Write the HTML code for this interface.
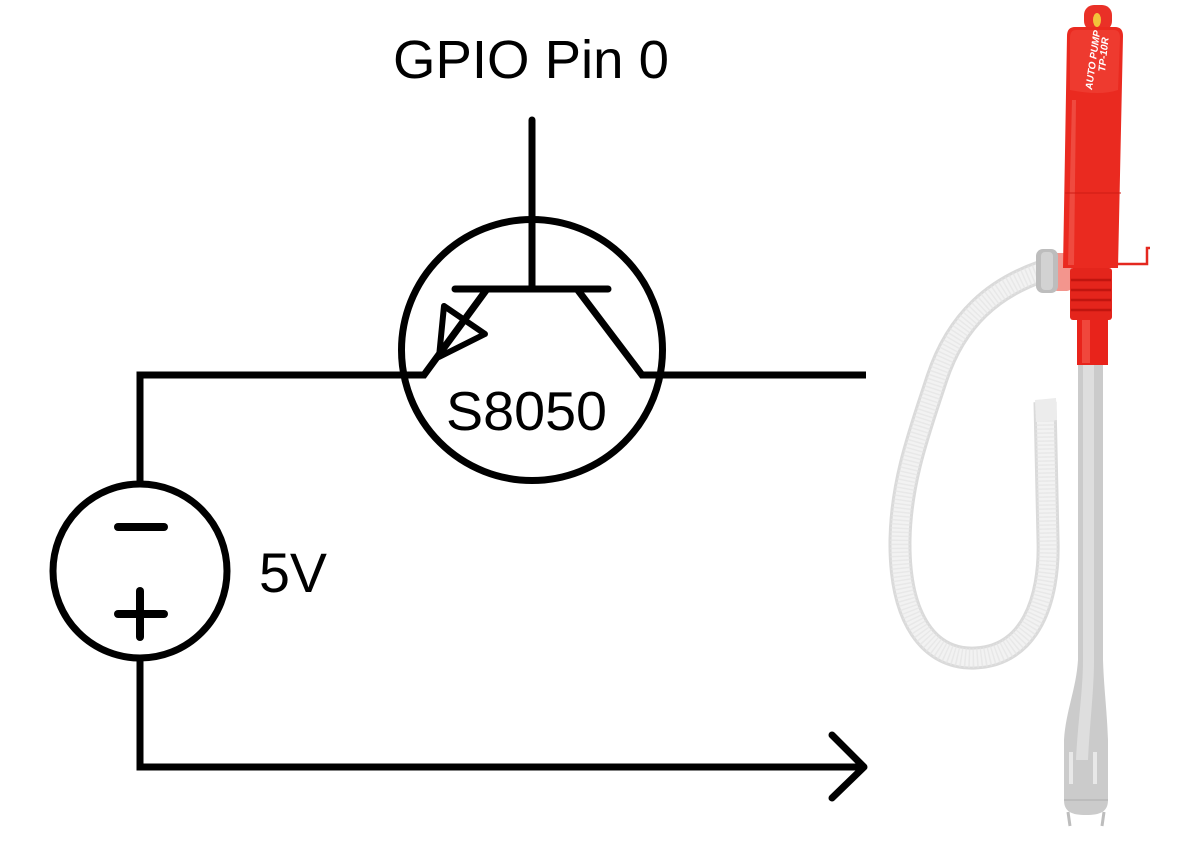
<!DOCTYPE html>
<html><head><meta charset="utf-8"><style>
html,body{margin:0;padding:0;background:#fff;}
svg{display:block;}
</style></head><body>
<svg width="1200" height="860" viewBox="0 0 1200 860" xmlns="http://www.w3.org/2000/svg">
<rect width="1200" height="860" fill="#fff"/>
<g fill="none" stroke="#000" stroke-width="7" stroke-linejoin="miter">
  <circle cx="532" cy="350" r="130.5"/>
  <line x1="532" y1="120" x2="532" y2="289" stroke-linecap="round"/>
  <line x1="455" y1="289" x2="608" y2="289" stroke-linecap="round"/>
  <polyline points="487,289 424,375 140,375 140,482"/>
  <polygon points="444,306 485,334 439,357" stroke-width="6" stroke-linejoin="round"/>
  <polyline points="577,289 642,375 866,375"/>
  <circle cx="140" cy="571" r="87"/>
  <polyline points="140,660 140,767 862,767"/>
  <polyline points="832,735 864,767 832,798" stroke-linecap="round" stroke-linejoin="round"/>
  <line x1="118" y1="527" x2="164" y2="527" stroke-width="8" stroke-linecap="round"/>
  <line x1="118" y1="614" x2="164" y2="614" stroke-width="8" stroke-linecap="round"/>
  <line x1="140" y1="591" x2="140" y2="637" stroke-width="8" stroke-linecap="round"/>
</g>
<g font-family="'Liberation Sans', sans-serif" fill="#000">
  <text x="393" y="78" font-size="54" textLength="276" lengthAdjust="spacingAndGlyphs">GPIO Pin 0</text>
  <text x="446" y="430" font-size="55" textLength="161" lengthAdjust="spacingAndGlyphs">S8050</text>
  <text x="259" y="592" font-size="56" textLength="68" lengthAdjust="spacingAndGlyphs">5V</text>
</g>

<g>
  <path d="M1040 272 C995 288 957 318 937 378 C920 430 901 480 900 540 C899 620 930 660 975 658 C1030 656 1050 600 1048 540 L1045 402" fill="none" stroke="#dadada" stroke-width="23"/>
  <path d="M1040 272 C995 288 957 318 937 378 C920 430 901 480 900 540 C899 620 930 660 975 658 C1030 656 1050 600 1048 540 L1045 402" fill="none" stroke="#f2f2f2" stroke-width="17"/>
  <path d="M1040 272 C995 288 957 318 937 378 C920 430 901 480 900 540 C899 620 930 660 975 658 C1030 656 1050 600 1048 540 L1045 402" fill="none" stroke="#e4e4e4" stroke-width="20" stroke-dasharray="1.5 2.5" opacity="0.7"/>
  <path d="M1035 400 L1056 398 L1057 420 L1036 422 Z" fill="#ececec"/>
  <path d="M1078 360 L1103 360 L1103 660 C1104 690 1107 710 1108 740 L1108 800 C1108 812 1100 815 1086 815 C1072 815 1064 812 1064 800 L1064 740 C1066 710 1076 690 1078 660 Z" fill="#cbcbcb"/>
  <path d="M1083 360 L1094 360 L1094 660 C1094 690 1090 720 1088 760 L1076 760 C1078 720 1083 690 1083 660 Z" fill="#dedede"/>
  <line x1="1064" y1="800" x2="1108" y2="800" stroke="#b8b8b8" stroke-width="1.5"/>
  <rect x="1069" y="752" width="4" height="32" fill="#e8e8e8"/>
  <rect x="1093" y="752" width="4" height="32" fill="#e8e8e8"/>
  <path d="M1068 812 L1070 826 M1104 812 L1102 826" stroke="#bdbdbd" stroke-width="3"/>
  <rect x="1052" y="253" width="20" height="38" rx="5" fill="#f07a70" opacity="0.8"/>
  <rect x="1036" y="249" width="22" height="44" rx="7" fill="#bdbdbd"/>
  <rect x="1041" y="252" width="12" height="38" rx="4" fill="#d2d2d2"/>
  <rect x="1077" y="315" width="31" height="50" fill="#e8231b"/>
  <rect x="1082" y="318" width="8" height="45" fill="#f0473c"/>
  <rect x="1070" y="268" width="42" height="52" rx="3" fill="#e4251c"/>
  <g stroke="#c0150f" stroke-width="2.5">
    <line x1="1071" y1="280" x2="1111" y2="280"/>
    <line x1="1071" y1="290" x2="1111" y2="290"/>
    <line x1="1071" y1="300" x2="1111" y2="300"/>
    <line x1="1071" y1="310" x2="1111" y2="310"/>
  </g>
  <path d="M1117 264 L1147 264 L1147 248 L1150 248" fill="none" stroke="#e4281f" stroke-width="2.5"/>
  <rect x="1084" y="5" width="28" height="26" rx="10" fill="#ea3027"/>
  <ellipse cx="1097" cy="20" rx="4" ry="7" fill="#f2c23a"/>
  <path d="M1075 27 L1115 27 Q1123 27 1123 36 L1118 268 L1063 268 L1067 36 Q1067 27 1075 27 Z" fill="#ea2a20"/>
  <path d="M1076 30 L1114 30 Q1120 30 1120 38 L1118 90 Q1100 96 1070 90 L1070 38 Q1070 30 1076 30 Z" fill="#ee3a2f"/>
  <path d="M1072 100 L1076 100 L1074 265 L1068 265 Z" fill="#f1584d" opacity="0.7"/>
  <line x1="1065" y1="193" x2="1121" y2="193" stroke="#cf1c14" stroke-width="1"/>
  <text x="0" y="0" transform="translate(1092,90) rotate(-82)" font-family="'Liberation Sans', sans-serif" font-size="10" font-style="italic" font-weight="bold" fill="#fff">AUTO PUMP</text>
  <text x="0" y="0" transform="translate(1105,72) rotate(-84)" font-family="'Liberation Sans', sans-serif" font-size="10" font-style="italic" font-weight="bold" fill="#fff">TP-10R</text>
</g>
</svg>
</body></html>
